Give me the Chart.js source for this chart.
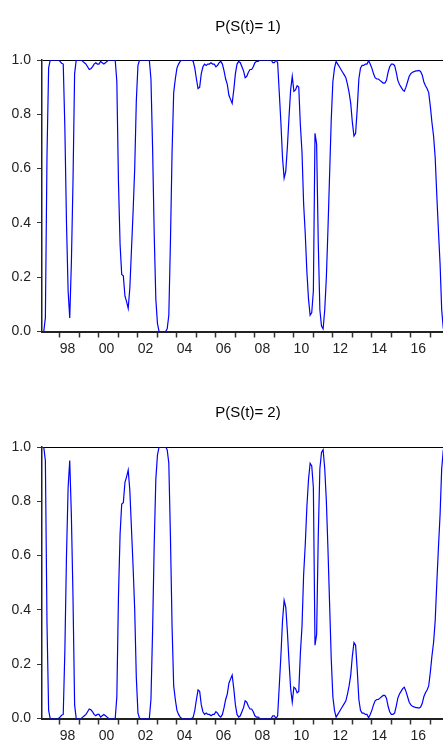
<!DOCTYPE html>
<html>
<head>
<meta charset="utf-8">
<script src="https://cdn.jsdelivr.net/npm/chart.js@4.4.1/dist/chart.umd.min.js"></script>
<style>
  html, body { margin: 0; padding: 0; background: #fff; overflow: hidden; width: 443px; height: 741px; }
  .panel { position: absolute; left: 0; width: 454px; height: 372px; }
  .panel canvas { position: absolute; left: 0; top: 0; }
  .title {
    position: absolute; left: 42px; width: 412px; text-align: center;
    font: 15px "Liberation Sans", Arial, sans-serif; color: #000; z-index: 2;
  }
</style>
</head>
<body>
<div class="panel" style="top:0">
  <div class="title" style="top:17px">P(S(t)= 1)</div>
  <canvas id="chart-s1" width="454" height="372"></canvas>
</div>
<div class="panel" style="top:387px">
  <div class="title" style="top:16px">P(S(t)= 2)</div>
  <canvas id="chart-s2" width="454" height="372"></canvas>
</div>
<script>
'use strict';

// ── Data (monthly, 1997M02 – 2017M09) ─────────────────
const START_YEAR = 1997 + 1 / 12;   // 1997M02
const YEARS      = [1998, 1999, 2000, 2001, 2002, 2003, 2004, 2005, 2006, 2007,
                    2008, 2009, 2010, 2011, 2012, 2013, 2014, 2015, 2016, 2017];
const Y_TICKS    = [0, 0.2, 0.4, 0.6, 0.8, 1.0];

// P(S(t)= 1), one row per year
const PROB_S1 = [
  0.0, 0.0, 0.05, 0.65, 0.97, 1.0, 1.0, 1.0, 1.0, 1.0, 1.0,                      // 97
  0.995, 0.988, 0.985, 0.75, 0.4, 0.15, 0.05, 0.25, 0.55, 0.95, 1.0, 1.0,        // 98
  1.0, 1.0, 0.995, 0.99, 0.985, 0.975, 0.965, 0.968, 0.975, 0.985, 0.99, 0.985,  // 99
  0.985, 0.995, 0.99, 0.985, 0.99, 0.995, 1.0, 1.0, 1.0, 1.0, 1.0, 0.92,         // 00
  0.55, 0.32, 0.21, 0.205, 0.13, 0.11, 0.085, 0.16, 0.3, 0.44, 0.6, 0.85,        // 01
  0.98, 1.0, 1.0, 1.0, 1.0, 1.0, 1.0, 1.0, 0.93, 0.68, 0.36, 0.12,               // 02
  0.03, 0.0, 0.0, 0.0, 0.0, 0.0, 0.01, 0.06, 0.33, 0.66, 0.88, 0.93,             // 03
  0.97, 0.985, 0.995, 1.0, 1.0, 1.0, 1.0, 1.0, 1.0, 1.0, 0.995, 0.97,            // 04
  0.93, 0.895, 0.9, 0.95, 0.975, 0.985, 0.98, 0.985, 0.985, 0.99, 0.985, 0.985,  // 05
  0.975, 0.98, 0.99, 0.995, 0.985, 0.96, 0.93, 0.91, 0.87, 0.855, 0.84, 0.89,    // 06
  0.95, 0.985, 0.995, 0.99, 0.975, 0.96, 0.935, 0.94, 0.955, 0.965, 0.965, 0.975,// 07
  0.99, 0.995, 0.995, 1.0, 1.0, 1.0, 1.0, 1.0, 1.0, 1.0, 1.0, 0.99,              // 08
  0.99, 1.0, 0.99, 0.88, 0.77, 0.64, 0.565, 0.59, 0.68, 0.79, 0.89, 0.94,        // 09
  0.885, 0.89, 0.905, 0.9, 0.76, 0.66, 0.47, 0.36, 0.22, 0.12, 0.06, 0.07,       // 10
  0.15, 0.73, 0.69, 0.33, 0.08, 0.02, 0.01, 0.08, 0.2, 0.38, 0.58, 0.78,         // 11
  0.92, 0.97, 0.995, 0.985, 0.975, 0.965, 0.955, 0.945, 0.935, 0.91, 0.88, 0.84, // 12
  0.77, 0.72, 0.73, 0.82, 0.93, 0.97, 0.98, 0.98, 0.985, 0.985, 0.997, 0.985,    // 13
  0.97, 0.95, 0.935, 0.93, 0.93, 0.925, 0.92, 0.915, 0.915, 0.925, 0.955, 0.975, // 14
  0.985, 0.985, 0.98, 0.955, 0.925, 0.91, 0.9, 0.89, 0.885, 0.9, 0.92, 0.94,     // 15
  0.95, 0.955, 0.957, 0.96, 0.96, 0.962, 0.958, 0.945, 0.92, 0.905, 0.895, 0.88, // 16
  0.83, 0.77, 0.72, 0.64, 0.5, 0.37, 0.25, 0.08, 0.01,                           // 17
];

// P(S(t)= 2), one row per year
const PROB_S2 = [
  1.0, 1.0, 0.95, 0.35, 0.03, 0.0, 0.0, 0.0, 0.0, 0.0, 0.0,                      // 97
  0.005, 0.012, 0.015, 0.25, 0.6, 0.85, 0.95, 0.75, 0.45, 0.05, 0.0, 0.0,        // 98
  0.0, 0.0, 0.005, 0.01, 0.015, 0.025, 0.035, 0.032, 0.025, 0.015, 0.01, 0.015,  // 99
  0.015, 0.005, 0.01, 0.015, 0.01, 0.005, 0.0, 0.0, 0.0, 0.0, 0.0, 0.08,         // 00
  0.45, 0.68, 0.79, 0.795, 0.87, 0.89, 0.915, 0.84, 0.7, 0.56, 0.4, 0.15,        // 01
  0.02, 0.0, 0.0, 0.0, 0.0, 0.0, 0.0, 0.0, 0.07, 0.32, 0.64, 0.88,               // 02
  0.97, 1.0, 1.0, 1.0, 1.0, 1.0, 0.99, 0.94, 0.67, 0.34, 0.12, 0.07,             // 03
  0.03, 0.015, 0.005, 0.0, 0.0, 0.0, 0.0, 0.0, 0.0, 0.0, 0.005, 0.03,            // 04
  0.07, 0.105, 0.1, 0.05, 0.025, 0.015, 0.02, 0.015, 0.015, 0.01, 0.015, 0.015,  // 05
  0.025, 0.02, 0.01, 0.005, 0.015, 0.04, 0.07, 0.09, 0.13, 0.145, 0.16, 0.11,    // 06
  0.05, 0.015, 0.005, 0.01, 0.025, 0.04, 0.065, 0.06, 0.045, 0.035, 0.035, 0.025,// 07
  0.01, 0.005, 0.005, 0.0, 0.0, 0.0, 0.0, 0.0, 0.0, 0.0, 0.0, 0.01,              // 08
  0.01, 0.0, 0.01, 0.12, 0.23, 0.36, 0.435, 0.41, 0.32, 0.21, 0.11, 0.06,        // 09
  0.115, 0.11, 0.095, 0.1, 0.24, 0.34, 0.53, 0.64, 0.78, 0.88, 0.94, 0.93,       // 10
  0.85, 0.27, 0.31, 0.67, 0.92, 0.98, 0.99, 0.92, 0.8, 0.62, 0.42, 0.22,         // 11
  0.08, 0.03, 0.005, 0.015, 0.025, 0.035, 0.045, 0.055, 0.065, 0.09, 0.12, 0.16, // 12
  0.23, 0.28, 0.27, 0.18, 0.07, 0.03, 0.02, 0.02, 0.015, 0.015, 0.003, 0.015,    // 13
  0.03, 0.05, 0.065, 0.07, 0.07, 0.075, 0.08, 0.085, 0.085, 0.075, 0.045, 0.025, // 14
  0.015, 0.015, 0.02, 0.045, 0.075, 0.09, 0.1, 0.11, 0.115, 0.1, 0.08, 0.06,     // 15
  0.05, 0.045, 0.043, 0.04, 0.04, 0.038, 0.042, 0.055, 0.08, 0.095, 0.105, 0.12, // 16
  0.17, 0.23, 0.28, 0.36, 0.5, 0.63, 0.75, 0.92, 0.99,                           // 17
];

// ── Axis range (plot runs a little past the window on the right) ──
const X_MIN = 1997.077;
const X_MAX = 2018.215;

const FONT = { family: '"Liberation Sans", Arial, sans-serif', size: 14 };

function buildPanel(canvasId, values) {
  const points = values.map((v, i) => ({ x: START_YEAR + i / 12, y: v }));

  return new Chart(document.getElementById(canvasId), {
    type: 'line',
    data: {
      datasets: [{
        data: points,
        borderColor: '#0000ff',
        borderWidth: 1.2,
        pointRadius: 0,
        tension: 0,
        fill: false,
      }],
    },
    options: {
      responsive: false,
      animation: false,
      devicePixelRatio: 1,
      layout: { padding: { top: 60, right: 0, bottom: 0, left: 0 } },
      plugins: {
        legend:  { display: false },
        tooltip: { enabled: false },
      },
      scales: {
        x: {
          type: 'linear',
          min: X_MIN,
          max: X_MAX,
          afterBuildTicks: (s) => { s.ticks = YEARS.map(v => ({ value: v })); },
          afterFit: (s) => { s.height = 40.5; },
          grid:   { drawOnChartArea: false, tickLength: 6, tickColor: '#333', tickWidth: 1.5 },
          border: { color: '#222', width: 2 },
          ticks: {
            autoSkip: false,
            maxRotation: 0,
            labelOffset: 7.5,
            padding: 3,
            color: '#222',
            font: FONT,
            callback: (v) => v % 2 === 0 ? String(v).slice(2) : '',
          },
        },
        y: {
          min: 0,
          max: 1,
          afterBuildTicks: (s) => { s.ticks = Y_TICKS.map(v => ({ value: v })); },
          afterFit: (s) => { s.width = 42; },
          grid: {
            color: (c) => c.tick && c.tick.value === 1 ? '#000' : 'rgba(0,0,0,0)',
            tickColor: '#333',
            tickLength: 5,
            lineWidth: 1,
          },
          border: { color: '#222', width: 1.5 },
          ticks: {
            padding: 6,
            color: '#222',
            font: FONT,
            callback: (v) => v.toFixed(1),
          },
        },
      },
    },
  });
}

buildPanel('chart-s1', PROB_S1);
buildPanel('chart-s2', PROB_S2);
</script>
</body>
</html>
